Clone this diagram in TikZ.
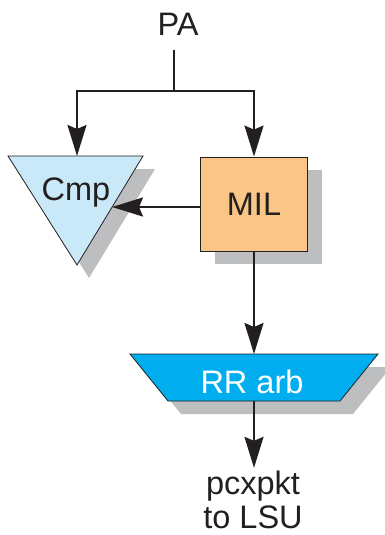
\documentclass[tikz,border=0pt]{standalone}
\usepackage{fontspec}
\setmainfont{Liberation Sans}
\usetikzlibrary{arrows.meta}
\definecolor{cmpblue}{HTML}{C9E8F8}
\definecolor{milorange}{HTML}{FAC688}
\definecolor{arbcyan}{HTML}{00AEEF}
\definecolor{shadowgray}{HTML}{BCBEC0}
\definecolor{ink}{HTML}{231F20}
\begin{document}
\begin{tikzpicture}[x=1pt,y=-1pt,
  lbl/.style={font=\fontsize{32.5}{34}\selectfont, text=ink, inner sep=0pt},
  wire/.style={line width=2.2pt, draw=ink},
  arr/.style={wire, -{Stealth[length=31pt,width=19pt,inset=4pt]}},
  outline/.style={draw=ink, line width=0.8pt},
  shadowfill/.style={fill=shadowgray}]
\useasboundingbox (0,0) rectangle (385,535);
% shape corners
\coordinate (cmpA) at (8,156);
\coordinate (cmpB) at (143,156);
\coordinate (cmpC) at (77,265);
\coordinate (cmptop) at (77,156);
\coordinate (cmpedge) at (112,207);
\coordinate (arbA) at (130,354);
\coordinate (arbB) at (378,354);
\coordinate (arbC) at (340,401);
\coordinate (arbD) at (168,401);
\coordinate (arbtop) at (254,354);
\coordinate (arbbot) at (254,401);
\coordinate (paend) at (174,50);
\coordinate (split) at (174,91);
% shadows
\fill[shadowfill] ([shift={(12,13)}]cmpA) -- ([shift={(12,13)}]cmpB) -- ([shift={(12,13)}]cmpC) -- cycle;
\fill[shadowfill] (215,170) rectangle (322,264);
\fill[shadowfill] ([shift={(13,13)}]arbA) -- ([shift={(13,13)}]arbB) -- ([shift={(13,13)}]arbC) -- ([shift={(13,13)}]arbD) -- cycle;
% shapes
\filldraw[outline, fill=cmpblue] (cmpA) -- (cmpB) -- (cmpC) -- cycle;
\filldraw[outline, fill=arbcyan] (arbA) -- (arbB) -- (arbC) -- (arbD) -- cycle;
\node[lbl, draw=ink, line width=0.8pt, fill=milorange, minimum width=107pt, minimum height=94pt] (mil) at (254,204) {MIL};
% labels
\node[lbl] (pa) at (178,24) {PA};
\node[lbl] (cmp) at (76,193) {Cmp};
\node[lbl, text=white] (arb) at (252,382) {RR arb};
\node[lbl, align=center, inner ysep=3pt] (out) at (253,500) {pcxpkt\\to LSU};
% connectors
\draw[wire] (paend) -- (split);
\draw[arr] (split) -| (cmptop);
\draw[arr] (split) -| (mil.north);
\draw[arr] (cmpedge -| mil.west) -- (cmpedge);
\draw[arr] (mil.south) -- (arbtop);
\draw[arr] (arbbot) -- (arbbot |- out.north);
\end{tikzpicture}
\end{document}
